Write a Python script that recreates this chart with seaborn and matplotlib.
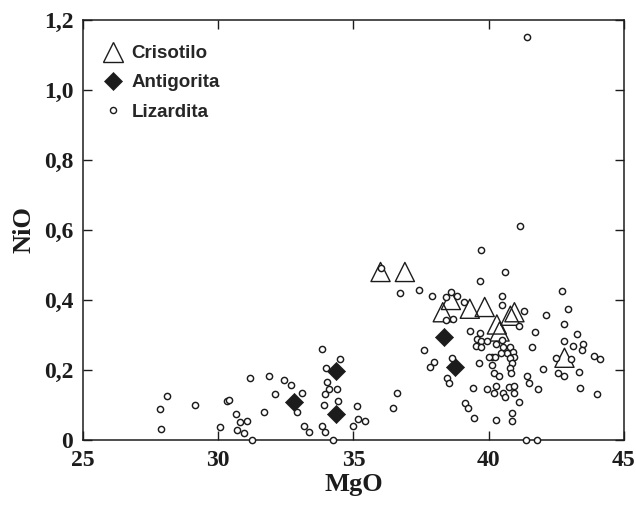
import numpy as np
import pandas as pd
import seaborn as sns
import matplotlib.pyplot as plt
from matplotlib.lines import Line2D

# values (MgO vs NiO, wt %)
crisotilo_mgo = [36.0, 36.9, 38.3, 38.6, 39.3, 39.85, 40.3, 40.4, 40.8, 40.95, 42.8]
crisotilo_nio = [0.48, 0.48, 0.365, 0.40, 0.375, 0.38, 0.33, 0.31, 0.355, 0.365, 0.235]

antigorita_mgo = [32.81, 34.34, 34.34, 38.36, 38.75]
antigorita_nio = [0.109, 0.198, 0.074, 0.295, 0.209]

lizardita_mgo = [
    27.83, 27.88, 28.11, 29.13, 30.05, 30.33, 30.40, 30.64, 30.80, 31.07,
    30.68, 30.96, 31.25, 31.19, 31.86, 32.08, 31.69, 32.42, 32.70, 33.10,
    32.92, 33.16, 33.37, 33.82, 34.49, 33.99, 34.03, 34.11, 34.38, 33.93,
    34.44, 33.92, 33.84, 33.93, 34.23, 35.12, 35.17, 35.44, 34.99, 36.62,
    36.45,
    36.0, 36.73, 37.41, 37.90, 37.61, 37.99, 37.83, 38.63, 38.47, 38.53,
    38.59, 38.42, 38.81, 39.10, 38.42, 38.69, 39.31, 39.69, 39.55, 39.71,
    39.94, 39.53, 39.70, 40.27, 40.48, 40.54, 40.79, 40.90, 40.66, 40.93,
    40.11, 40.23, 39.64, 40.02, 40.45, 40.11, 40.21, 40.38, 40.79, 40.85,
    40.79, 40.81, 41.43, 41.49, 41.83, 39.40, 39.92, 40.19, 40.27, 40.51,
    40.60, 40.76, 40.93, 40.93, 41.13, 39.12, 39.24, 39.47, 40.27, 40.87,
    40.87, 41.38, 41.80, 41.41, 41.15, 39.70, 40.59, 39.69, 40.49, 40.49,
    41.31, 41.71, 41.60, 41.12,
    42.71, 42.94, 42.10, 42.77, 43.26, 42.77, 43.10, 43.50, 43.44, 43.89,
    44.11, 42.48, 43.05, 42.57, 42.78, 43.35, 41.99, 43.37, 44.00,
]
lizardita_nio = [
    0.088, 0.032, 0.126, 0.101, 0.037, 0.110, 0.115, 0.075, 0.050, 0.054,
    0.029, 0.019, 0.000, 0.178, 0.183, 0.130, 0.080, 0.170, 0.157, 0.135,
    0.080, 0.041, 0.023, 0.261, 0.230, 0.205, 0.167, 0.145, 0.145, 0.130,
    0.110, 0.101, 0.041, 0.023, 0.000, 0.096, 0.059, 0.053, 0.040, 0.135,
    0.092,
    0.490, 0.421, 0.429, 0.412, 0.257, 0.222, 0.209, 0.233, 0.177, 0.162,
    0.424, 0.408, 0.410, 0.395, 0.343, 0.345, 0.312, 0.305, 0.288, 0.284,
    0.284, 0.269, 0.265, 0.274, 0.286, 0.265, 0.265, 0.252, 0.248, 0.238,
    0.238, 0.236, 0.221, 0.236, 0.248, 0.214, 0.191, 0.183, 0.233, 0.219,
    0.205, 0.191, 0.184, 0.162, 0.145, 0.149, 0.145, 0.133, 0.154, 0.133,
    0.124, 0.151, 0.154, 0.135, 0.109, 0.107, 0.090, 0.062, 0.057, 0.076,
    0.054, 0.000, 0.000, 1.151, 0.612, 0.543, 0.481, 0.455, 0.410, 0.386,
    0.369, 0.309, 0.265, 0.326,
    0.426, 0.373, 0.356, 0.330, 0.304, 0.283, 0.269, 0.274, 0.256, 0.240,
    0.230, 0.233, 0.231, 0.191, 0.183, 0.195, 0.202, 0.149, 0.131,
]

x_ticks = [25, 30, 35, 40, 45]
y_ticks = [0, 0.2, 0.4, 0.6, 0.8, 1.0, 1.2]
y_tick_labels = ["0", "0,2", "0,4", "0,6", "0,8", "1,0", "1,2"]

df = pd.concat([
    pd.DataFrame({"MgO": crisotilo_mgo, "NiO": crisotilo_nio, "mineral": "Crisotilo"}),
    pd.DataFrame({"MgO": antigorita_mgo, "NiO": antigorita_nio, "mineral": "Antigorita"}),
    pd.DataFrame({"MgO": lizardita_mgo, "NiO": lizardita_nio, "mineral": "Lizardita"}),
], ignore_index=True)

sns.set_style("ticks")
plt.rcParams["font.family"] = ["Liberation Serif", "DejaVu Serif"]
ink = "#1c1c1c"

fig = plt.figure(figsize=(6.36, 5.08), dpi=100)
ax = fig.add_axes([0.1305, 0.1339, 0.8506, 0.8268])

sns.scatterplot(data=df[df.mineral == "Antigorita"], x="MgO", y="NiO",
                marker="D", s=85, color=ink, edgecolor=ink, linewidth=0.5,
                ax=ax, zorder=2, legend=False)
sns.scatterplot(data=df[df.mineral == "Crisotilo"], x="MgO", y="NiO",
                marker="^", s=190, color=ink, edgecolor=ink, linewidth=1.0,
                ax=ax, zorder=3, legend=False)
ax.collections[-1].set_facecolor("none")
sns.scatterplot(data=df[df.mineral == "Lizardita"], x="MgO", y="NiO",
                marker="o", s=20, color="white", edgecolor=ink, linewidth=1.05,
                ax=ax, zorder=4, legend=False, clip_on=False)

ax.set_xlim(25, 45)
ax.set_ylim(0, 1.2)
ax.set_xticks(x_ticks)
ax.set_yticks(y_ticks)
ax.set_yticklabels(y_tick_labels)
ax.tick_params(direction="in", length=6.5, width=1.0, top=True, right=True,
               labelsize=17, pad=7, color=ink, labelcolor=ink)
for lab in ax.get_xticklabels() + ax.get_yticklabels():
    lab.set_fontweight("bold")
for sp in ax.spines.values():
    sp.set_linewidth(1.1)
    sp.set_color(ink)

ax.set_xlabel("MgO", fontsize=19, fontweight="bold", color=ink, labelpad=2)
ax.set_ylabel("NiO", fontsize=19, fontweight="bold", color=ink, labelpad=6)

handles = [
    Line2D([], [], ls="", marker="^", ms=13.7, mfc="none", mec=ink, mew=1.0),
    Line2D([], [], ls="", marker="D", ms=9.2, mfc=ink, mec=ink, mew=0.5),
    Line2D([], [], ls="", marker="o", ms=4.4, mfc="white", mec=ink, mew=1.0),
]
ax.legend(handles, ["Crisotilo", "Antigorita", "Lizardita"], loc="upper left",
          bbox_to_anchor=(0.0, 0.985), frameon=False, handlelength=1.2,
          handletextpad=0.4, labelspacing=0.65, borderaxespad=0.6,
          prop={"family": "Liberation Sans", "weight": "bold", "size": 13.5})

fig.savefig("out.png", dpi=100)
